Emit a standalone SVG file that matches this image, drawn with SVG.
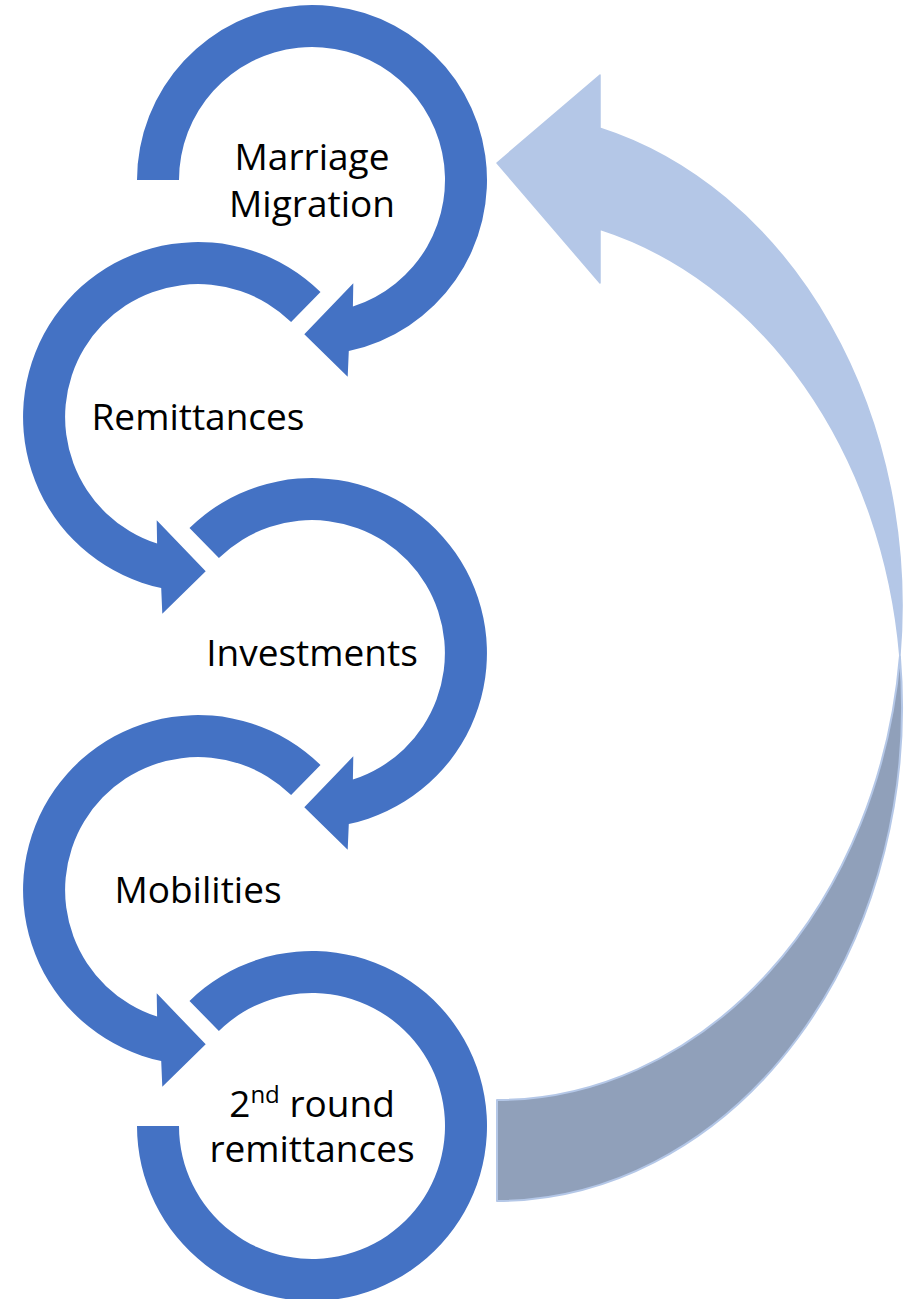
<svg xmlns="http://www.w3.org/2000/svg" width="920" height="1299" viewBox="0 0 920 1299">
  <style>
    .ring { fill: #4472C4; }
    .label { font-family: "Open Sans", "Liberation Sans", sans-serif; font-size: 37px; fill: #000000; text-anchor: middle; }
    .front { fill: #B4C7E7; stroke: #B4C7E7; stroke-width: 1.5; stroke-linejoin: round; }
    .back { fill: #90A0BA; stroke: #B4C7E7; stroke-width: 2; stroke-linejoin: round; }
  </style>

  <!-- large return arrow: from the last step back up to the first -->
  <g id="connectors">
    <g id="return-arrow">
      <path class="back" d="M 899.9 656.5 A 405 494 0 0 1 497 1201 L 497 1100 A 405 494 0 0 0 899.9 656.5 Z"/>
      <path class="front" d="M 600 128.2 A 405 494 0 0 1 899.9 656.5 A 405 494 0 0 0 600 229.3 L 600 283 L 497 163 L 600 75 Z"/>
    </g>
  </g>

  <!-- step 1: clockwise ring, open on the left -->
  <g id="marriage-migration" transform="translate(312,180)">
    <path class="ring" d="M -175 0 A 175 175 0 1 1 36.8 171.1 L 35.7 196.7 L -7.7 154.3 L 41.3 103.3 L 40.9 126.6 A 133 133 0 1 0 -133 0 Z"/>
    <text class="label" x="0" y="-10">Marriage<tspan x="0" dy="47">Migration</tspan></text>
  </g>

  <!-- step 2: counter-clockwise ring -->
  <g id="remittances" transform="translate(198,417)">
    <path class="ring" d="M 122.5 -125 A 175 175 0 1 0 -36.8 171.1 L -35.7 196.7 L 7.7 154.3 L -41.3 103.3 L -40.9 126.6 A 133 133 0 1 1 93.1 -95 Z"/>
    <text class="label" x="0" y="13">Remittances</text>
  </g>

  <!-- step 3: clockwise ring -->
  <g id="investments" transform="translate(312,653)">
    <path class="ring" d="M -122.5 -125 A 175 175 0 1 1 36.8 171.1 L 35.7 196.7 L -7.7 154.3 L 41.3 103.3 L 40.9 126.6 A 133 133 0 1 0 -93.1 -95 Z"/>
    <text class="label" x="0" y="13">Investments</text>
  </g>

  <!-- step 4: counter-clockwise ring -->
  <g id="mobilities" transform="translate(198,890)">
    <path class="ring" d="M 122.5 -125 A 175 175 0 1 0 -36.8 171.1 L -35.7 196.7 L 7.7 154.3 L -41.3 103.3 L -40.9 126.6 A 133 133 0 1 1 93.1 -95 Z"/>
    <text class="label" x="0" y="13">Mobilities</text>
  </g>

  <!-- step 5: clockwise ring ending flat on the left -->
  <g id="second-round-remittances" transform="translate(312,1126)">
    <path class="ring" d="M -122.5 -125 A 175 175 0 1 1 -175 0 L -133 0 A 133 133 0 1 0 -93.1 -95 Z"/>
    <text class="label" x="0" y="-9">2<tspan font-size="24" dy="-14">nd</tspan><tspan dy="14"> round</tspan><tspan x="0" dy="45">remittances</tspan></text>
  </g>
</svg>
